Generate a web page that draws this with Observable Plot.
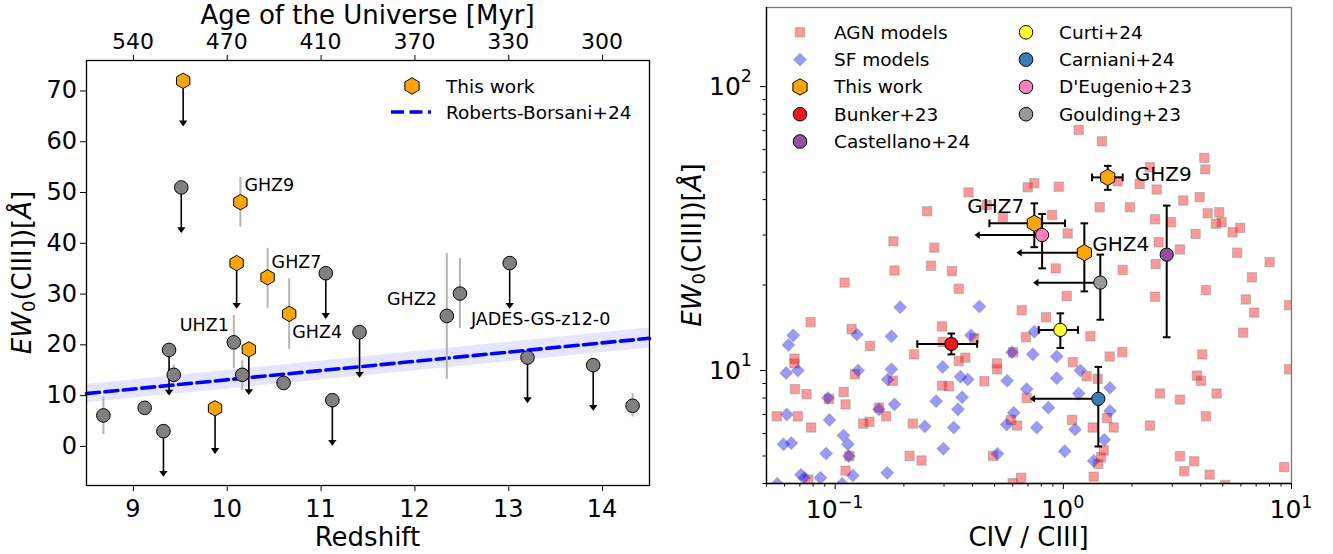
<!DOCTYPE html>
<html>
<head>
<meta charset="utf-8">
<script src="https://cdn.jsdelivr.net/npm/d3@7"></script>
<script src="https://cdn.jsdelivr.net/npm/@observablehq/plot@0.6"></script>
<style>
  html, body { margin: 0; padding: 0; background: #fff; }
  #fig { position: relative; width: 1333px; height: 554px; overflow: hidden; font-family: "DejaVu Sans", sans-serif; }
  #fig svg { position: absolute; top: 0; }
</style>
</head>
<body>
<div id="fig"></div>
<script>
// ===================== LEFT PANEL DATA =====================
const zTicks = [9, 10, 11, 12, 13, 14];
const ageTickLabels = ["540", "470", "410", "370", "330", "300"];
const ewTicks = [0, 10, 20, 30, 40, 50, 60, 70];

// This work (orange hexagons)
const twName  = ["", "GHZ9", "", "GHZ7", "GHZ4", "", ""];
const twZ     = [9.53, 10.14, 10.10, 10.43, 10.66, 10.23, 9.87];
const twEW    = [72.0, 48.1, 36.1, 33.3, 26.1, 19.1, 7.5];
const twLimit = [true, false, true, false, false, true, true];
const twLo    = [null, 43.2, null, 27.2, 19.1, null, null];
const twHi    = [null, 53.0, null, 39.0, 33.0, null, null];

// Literature (grey circles)
const litName  = ["", "", "", "UHZ1", "", "", "", "", "", "", "", "", "GHZ2", "JADES-GS-z12-0", "", "", "", ""];
const litZ     = [9.51, 11.05, 11.41, 10.07, 9.38, 9.43, 10.16, 10.60, 8.68, 9.12, 9.32, 11.12, 12.34, 12.48, 13.01, 13.20, 13.90, 14.32];
const litEW    = [51.0, 34.1, 22.5, 20.5, 19.0, 14.1, 14.1, 12.5, 6.1, 7.6, 3.0, 9.1, 25.7, 30.1, 36.1, 17.5, 16.0, 8.0];
const litLimit = [true, true, true, false, true, false, false, false, false, false, true, true, false, false, true, true, true, false];
const litLo    = [null, null, null, 15.3, null, 12.5, 11.0, null, 2.3, null, null, null, 13.2, 23.2, null, null, null, 5.8];
const litHi    = [null, null, null, 25.8, null, 16.0, 17.0, null, 9.8, null, null, null, 38.0, 37.0, null, null, null, 10.4];
const limitArrow = 8; // Å, length of upper-limit arrows

// Roberts-Borsani+24 relation
const rbZ  = [8.5, 14.5];
const rbEW = [10.4, 21.3];
const rbLo = [8.6, 19.4];
const rbHi = [12.2, 23.3];

// ===================== RIGHT PANEL DATA =====================
const civTicks = [0.1, 1, 10];
const civTickLabels = ["10^\u22121", "10^0", "10^1"];
const civMinor = [0.05, 0.06, 0.07, 0.08, 0.09, 0.2, 0.3, 0.4, 0.5, 0.6, 0.7, 0.8, 0.9, 2, 3, 4, 5, 6, 7, 8, 9];
const ewLogTicks = [10, 100];
const ewLogTickLabels = ["10^1", "10^2"];
const ewLogMinor = [4, 5, 6, 7, 8, 9, 20, 30, 40, 50, 60, 70, 80, 90];

// AGN models (squares)
const agnX = [0.253, 0.180, 0.272, 0.263, 0.182, 0.325, 0.110, 0.348, 0.078, 0.118, 0.294, 0.142, 0.222, 0.296, 0.407, 0.372, 0.348, 0.0663, 0.0663, 0.512,
  0.512, 0.451, 0.122, 0.179, 0.294, 0.315, 0.0666, 0.0749, 0.109, 0.111, 0.094, 0.0555, 0.0686, 0.0785, 0.1326, 0.1413, 0.1554, 0.167, 0.219, 0.1155,
  0.111, 0.212, 0.239, 0.492, 0.0762, 0.384, 1.168, 1.477, 4.146, 4.188, 2.397, 2.161, 2.565, 1.731, 0.746, 0.698, 0.955, 0.462, 0.543, 0.892,
  1.444, 1.960, 3.355, 3.958, 4.290, 4.822, 4.665, 4.941, 5.52, 5.96, 2.522, 2.963, 1.045, 3.80, 2.617, 3.245, 5.78, 8.02, 2.539, 0.926,
  1.820, 6.71, 4.217, 1.035, 2.522, 6.31, 9.77, 6.86, 0.657, 0.840, 1.313, 0.686, 6.14, 1.813, 1.597, 4.063, 9.77, 0.602, 1.099, 1.266,
  1.415, 3.851, 4.01, 2.652, 3.245, 4.698, 0.691, 4.217, 1.092, 1.554, 0.627, 0.590, 1.345, 1.662, 2.397, 1.503, 1.463, 1.423, 1.359, 3.245,
  3.748, 3.388, 4.378, 5.12, 9.29, 0.653, 0.600];
const agnEW = [36.4, 28.5, 27.1, 23.4, 22.5, 22.4, 20.4, 19.4, 14.8, 14.0, 14.3, 12.2, 11.4, 12.6, 13.0, 11.1, 10.8, 11.0, 10.6, 10.6,
  10.1, 9.17, 9.7, 9.2, 8.85, 8.8, 8.6, 8.25, 8.4, 7.6, 7.95, 6.9, 6.9, 6.3, 6.5, 6.6, 7.4, 6.9, 6.5, 5.0,
  4.44, 5.0, 4.82, 5.0, 4.13, 42.4, 70.4, 64.2, 56.1, 51.1, 52.0, 45.4, 43.4, 46.4, 45.7, 44.2, 44.4, 38.3, 34.7, 35.3,
  37.6, 37.6, 39.7, 40.8, 35.8, 36.1, 32.9, 33.3, 30.7, 31.8, 34.1, 33.3, 30.4, 30.3, 28.3, 26.7, 26.0, 24.1, 23.7, 22.9,
  22.6, 21.3, 19.2, 18.3, 18.2, 17.8, 17.0, 16.0, 16.3, 15.4, 13.2, 13.1, 13.6, 11.6, 11.2, 11.4, 10.1, 11.6, 10.7, 9.55,
  9.35, 9.6, 9.2, 8.3, 7.9, 8.3, 8.0, 6.9, 6.7, 6.8, 6.4, 6.7, 6.3, 6.3, 6.4, 5.23, 4.95, 4.69, 4.23, 4.99,
  4.79, 4.42, 4.30, 3.95, 4.57, 4.19, 4.01];

// SF models (diamonds)
const sfX = [0.1926, 0.4286, 0.0655, 0.0624, 0.1245, 0.1764, 0.394, 0.061, 0.0686, 0.126, 0.1764, 0.170, 0.296, 0.354, 0.381, 0.0929, 0.182, 0.277, 0.360, 0.1554,
  0.0614, 0.0944, 0.345, 0.247, 0.331, 0.0594, 0.0642, 0.1087, 0.1137, 0.0913, 0.1148, 0.298, 0.514, 0.0708, 0.0732, 0.0862, 0.1195, 0.169, 0.0557, 0.1073,
  0.746, 0.596, 0.7345, 0.9356, 1.187, 0.567, 0.936, 0.691, 1.168, 1.60, 0.860, 1.60, 0.606, 0.565, 0.765, 1.125, 1.512, 1.014, 1.359];
const sfEW = [16.7, 16.8, 13.3, 12.3, 13.4, 13.2, 13.3, 9.8, 10.0, 10.0, 10.1, 9.3, 10.3, 9.5, 9.3, 8.0, 7.6, 7.8, 8.05, 7.3,
  7.0, 6.7, 7.3, 6.35, 6.3, 5.5, 5.55, 5.9, 5.5, 5.1, 5.0, 5.3, 5.09, 4.29, 4.19, 4.19, 4.27, 4.36, 3.99, 3.99,
  13.7, 11.6, 11.4, 11.2, 10.0, 9.2, 9.4, 8.6, 8.3, 8.7, 7.4, 7.2, 7.1, 6.45, 6.3, 6.2, 5.7, 5.2, 4.8];

// This work (right panel)
const twRName = ["GHZ9", "GHZ7", "GHZ4"];
const twRX    = [1.565, 0.746, 1.236];
const twRXlo  = [1.336, 0.474, null];
const twRXhi  = [1.82, 1.017, null];
const twRXlim = [null, null, 0.652];
const twREW   = [47.9, 33.0, 26.0];
const twREWlo = [43.3, 27.2, 19.0];
const twREWhi = [52.6, 38.8, 33.0];

// Literature (right panel)
const refName  = ["Bunker+23", "Castellano+24", "Curti+24", "Carniani+24", "D'Eugenio+23", "Goulding+23"];
const refColor = ["#e41a1c", "#984ea3", "#ffff33", "#377eb8", "#f781bf", "#999999"];
const refX     = [0.323, 2.838, 0.970, 1.423, 0.807, 1.452];
const refXlo   = [0.229, null, 0.78, null, null, null];
const refXhi   = [0.419, null, 1.16, null, null, null];
const refXlim  = [null, null, null, 0.746, 0.427, 0.772];
const refEW    = [12.4, 25.6, 13.9, 7.95, 30.0, 20.4];
const refEWlo  = [11.4, 13.1, 12.0, 5.4, 22.9, 15.1];
const refEWhi  = [13.5, 38.1, 15.9, 10.3, 35.6, 25.6];

// ===================== SYMBOLS =====================
const sym = f => ({draw(ctx, size) { f(ctx, Math.sqrt(size / Math.PI)); }});
const hexagon = sym((c, r) => { const a = r * Math.sqrt(3) / 2; c.moveTo(0, -r); c.lineTo(a, -r / 2); c.lineTo(a, r / 2); c.lineTo(0, r); c.lineTo(-a, r / 2); c.lineTo(-a, -r / 2); c.closePath(); });
const square = sym((c, r) => { c.rect(-r, -r, 2 * r, 2 * r); });
const diamond = sym((c, r) => { c.moveTo(0, -r); c.lineTo(r, 0); c.lineTo(0, r); c.lineTo(-r, 0); c.closePath(); });
const caretDown = sym((c, r) => { c.moveTo(-r, -0.2 * r); c.lineTo(r, -0.2 * r); c.lineTo(0, 1.2 * r); c.closePath(); });
const caretLeft = sym((c, r) => { c.moveTo(0.2 * r, -r); c.lineTo(0.2 * r, r); c.lineTo(-1.2 * r, 0); c.closePath(); });
const hline = sym((c, r) => { c.moveTo(-r, 0); c.lineTo(r, 0); });
const vline = sym((c, r) => { c.moveTo(0, -r); c.lineTo(0, r); });

// ===================== LEFT PANEL =====================
const tw = twZ.map((z, i) => ({name: twName[i], z, ew: twEW[i], limit: twLimit[i], lo: twLo[i], hi: twHi[i]}));
const lit = litZ.map((z, i) => ({name: litName[i], z, ew: litEW[i], limit: litLimit[i], lo: litLo[i], hi: litHi[i]}));
const rb = rbZ.map((z, i) => ({z, ew: rbEW[i], lo: rbLo[i], hi: rbHi[i]}));
const allL = [...lit, ...tw];
const errL = allL.filter(d => d.lo != null);
const limL = allL.filter(d => d.limit).map(d => ({...d, end: d.ew - limitArrow}));

const leftLabelStyle = {
  "GHZ9": {dx: 4, dy: -17, anchor: "start"},
  "GHZ7": {dx: 4, dy: -15, anchor: "start"},
  "GHZ4": {dx: 3, dy: 19, anchor: "start"},
  "UHZ1": {dx: -5, dy: -17, anchor: "end"},
  "GHZ2": {dx: -10, dy: -17, anchor: "end"},
  "JADES-GS-z12-0": {dx: 11, dy: 26, anchor: "start"}
};
const leftLabels = allL.filter(d => d.name).map(d =>
  Plot.text([d], {x: "z", y: "ew", text: "name", dx: leftLabelStyle[d.name].dx, dy: leftLabelStyle[d.name].dy,
    textAnchor: leftLabelStyle[d.name].anchor, fontSize: 17.5, fill: "black"}));

const left = Plot.plot({
  width: 660, height: 554,
  marginLeft: 86, marginRight: 11, marginTop: 60, marginBottom: 69,
  style: {fontFamily: "DejaVu Sans", background: "transparent", overflow: "visible", color: "black"},
  x: {domain: [8.5, 14.5]},
  y: {domain: [-7.7, 76]},
  marks: [
    Plot.areaY(rb, {x: "z", y1: "lo", y2: "hi", fill: "blue", fillOpacity: 0.1}),
    Plot.lineY(rb, {x: "z", y: "ew", stroke: "blue", strokeWidth: 3.6, strokeDasharray: "13,5.5"}),
    Plot.ruleX(errL, {x: "z", y1: "lo", y2: "hi", stroke: "#b5b5b5", strokeWidth: 2}),
    Plot.ruleX(limL, {x: "z", y1: "ew", y2: "end", stroke: "black", strokeWidth: 1.6}),
    Plot.dot(limL, {x: "z", y: "end", symbol: caretDown, r: 4.2, fill: "black", stroke: "none"}),
    Plot.dot(lit, {x: "z", y: "ew", r: 6.8, fill: "gray", stroke: "black", strokeWidth: 1}),
    Plot.dot(tw, {x: "z", y: "ew", symbol: hexagon, r: 7.7, fill: "orange", stroke: "black", strokeWidth: 1}),
    ...leftLabels,
    Plot.frame({stroke: "black", strokeWidth: 1.3}),
    Plot.axisX({ticks: zTicks, tickSize: 6, label: null, tickFormat: () => ""}),
    Plot.axisX({anchor: "top", ticks: zTicks, tickSize: 6, label: null, tickFormat: () => ""}),
    Plot.axisY({ticks: ewTicks, tickSize: 6, label: null, tickFormat: () => ""})
  ]
});
left.style.left = "0px";

// ===================== RIGHT PANEL =====================
const agn = agnX.map((x, i) => ({x, y: agnEW[i]}));
const sf = sfX.map((x, i) => ({x, y: sfEW[i]}));
const twR = twRX.map((x, i) => ({name: twRName[i], x, y: twREW[i], xlo: twRXlo[i], xhi: twRXhi[i], xlim: twRXlim[i], ylo: twREWlo[i], yhi: twREWhi[i]}));
const refs = refX.map((x, i) => ({name: refName[i], color: refColor[i], x, y: refEW[i], xlo: refXlo[i], xhi: refXhi[i], xlim: refXlim[i], ylo: refEWlo[i], yhi: refEWhi[i]}));

function errMarks(data) {
  const xe = data.filter(d => d.xlo != null);
  const xl = data.filter(d => d.xlim != null);
  const bar = {stroke: "black", strokeWidth: 2};
  return [
    Plot.ruleX(data, {x: "x", y1: "ylo", y2: "yhi", ...bar}),
    Plot.dot(data, {x: "x", y: "ylo", symbol: hline, r: 3.8, fill: "none", ...bar}),
    Plot.dot(data, {x: "x", y: "yhi", symbol: hline, r: 3.8, fill: "none", ...bar}),
    Plot.ruleY(xe, {y: "y", x1: "xlo", x2: "xhi", ...bar}),
    Plot.dot(xe, {x: "xlo", y: "y", symbol: vline, r: 3.8, fill: "none", ...bar}),
    Plot.dot(xe, {x: "xhi", y: "y", symbol: vline, r: 3.8, fill: "none", ...bar}),
    Plot.ruleY(xl, {y: "y", x1: "x", x2: "xlim", ...bar}),
    Plot.dot(xl, {x: "xlim", y: "y", symbol: caretLeft, r: 3.8, fill: "black", stroke: "none"})
  ];
}
const rightLabelStyle = {
  "GHZ9": {dx: 27, dy: -3, anchor: "start"},
  "GHZ7": {dx: -10, dy: -17, anchor: "end"},
  "GHZ4": {dx: 8, dy: -8, anchor: "start"}
};
const rightLabels = twR.map(d => Plot.text([d], {x: "x", y: "y", text: "name", dx: rightLabelStyle[d.name].dx,
  dy: rightLabelStyle[d.name].dy, textAnchor: rightLabelStyle[d.name].anchor, fontSize: 20, fill: "black"}));

const right = Plot.plot({
  width: 673, height: 554,
  marginLeft: 106, marginRight: 42, marginTop: 7, marginBottom: 71,
  style: {fontFamily: "DejaVu Sans", background: "transparent", overflow: "visible", color: "black"},
  x: {type: "log", domain: [0.05, 10]},
  y: {type: "log", domain: [4, 190]},
  marks: [
    Plot.dot(agn, {x: "x", y: "y", symbol: square, r: 4.6, fill: "red", fillOpacity: 0.4, stroke: "gray", strokeOpacity: 0.4, strokeWidth: 1.2, clip: true}),
    Plot.dot(sf, {x: "x", y: "y", symbol: diamond, r: 6.3, fill: "blue", fillOpacity: 0.4, stroke: "gray", strokeOpacity: 0.4, strokeWidth: 1.2, clip: true}),
    ...errMarks(twR),
    Plot.dot(twR, {x: "x", y: "y", symbol: hexagon, r: 8.2, fill: "orange", stroke: "black", strokeWidth: 1}),
    ...errMarks(refs),
    Plot.dot(refs, {x: "x", y: "y", r: 6.6, fill: "color", stroke: "black", strokeWidth: 1}),
    ...rightLabels,
    Plot.frame({stroke: "#777", strokeWidth: 1.3}),
    Plot.ruleX([d3.min([0.05, 10])], {stroke: "black", strokeWidth: 1.3}),
    Plot.ruleY([d3.min([4, 190])], {stroke: "black", strokeWidth: 1.3}),
    Plot.axisX({ticks: civMinor, tickSize: 3.5, label: null, tickFormat: () => ""}),
    Plot.axisX({ticks: civTicks, tickSize: 6, label: null, tickFormat: () => ""}),
    Plot.axisY({ticks: ewLogMinor, tickSize: 3.5, label: null, tickFormat: () => ""}),
    Plot.axisY({ticks: ewLogTicks, tickSize: 6, label: null, tickFormat: () => ""})
  ]
});
right.style.left = "660px";

const fig = document.getElementById("fig");
fig.appendChild(left);
fig.appendChild(right);

// ===================== OVERLAY: tick labels, axis titles, legends =====================
const ov = d3.create("svg").attr("width", 1333).attr("height", 554)
  .style("left", "0px").attr("font-family", "DejaVu Sans").attr("fill", "black");

// tick labels positioned by the plots' own scales
const Lx = left.scale("x"), Ly = left.scale("y"), Rx = right.scale("x"), Ry = right.scale("y");
const Lframe = {left: 86, bottom: 485, top: 60};
const Rframe = {left: 660 + 106, bottom: 483};
function tickText(x, y, txt, size, anchor, baseline) {
  const t = ov.append("text").attr("x", x).attr("y", y).attr("text-anchor", anchor)
    .attr("font-size", size).attr("dominant-baseline", baseline || "auto");
  if (txt.includes("^")) {
    const [b, e] = txt.split("^");
    t.append("tspan").text(b);
    t.append("tspan").attr("font-size", size * 0.7).attr("dy", -size * 0.42).text(e);
  } else t.text(txt);
}
zTicks.forEach((z, i) => {
  tickText(Lx.apply(z), Lframe.bottom + 31.5, String(z), 24, "middle");
  tickText(Lx.apply(z), Lframe.top - 11, ageTickLabels[i], 22, "middle");
});
ewTicks.forEach(v => tickText(Lframe.left - 9, Ly.apply(v), String(v), 24, "end", "central"));
civTicks.forEach((v, i) => tickText(660 + Rx.apply(v), Rframe.bottom + 35, civTickLabels[i], 25, "middle"));
ewLogTicks.forEach((v, i) => tickText(Rframe.left - 14, Ry.apply(v), ewLogTickLabels[i], 25, "end", "central"));

function title(x, y, txt) {
  return ov.append("text").attr("x", x).attr("y", y).attr("text-anchor", "middle")
    .attr("dominant-baseline", "central").attr("font-size", 26).text(txt);
}
title(367.5, 15, "Age of the Universe [Myr]");
title(367.5, 537, "Redshift");
title(1028.5, 537, "CIV / CIII]");
function ewTitle(x, y) {
  const t = ov.append("text").attr("x", x).attr("y", y).attr("text-anchor", "middle")
    .attr("dominant-baseline", "central").attr("font-size", 26).attr("transform", `rotate(-90,${x},${y})`);
  t.append("tspan").attr("font-style", "italic").text("EW");
  t.append("tspan").attr("font-size", "18px").attr("dy", 6).text("0");
  t.append("tspan").attr("dy", -6).text("(CIII])[");
  t.append("tspan").attr("font-style", "italic").text("Å");
  t.append("tspan").text("]");
}
ewTitle(22, 272.5);
ewTitle(692, 245);

function legendSymbol(x, y, s, r, attrs) {
  const p = ov.append("path").attr("transform", `translate(${x},${y})`).attr("d", d3.symbol(s, Math.PI * r * r)());
  for (const k in attrs) p.attr(k, attrs[k]);
}
function legendText(x, y, txt) {
  ov.append("text").attr("x", x).attr("y", y).attr("dominant-baseline", "central").attr("font-size", 18.5).text(txt);
}
// left legend
legendSymbol(412, 86, hexagon, 8.2, {fill: "orange", stroke: "black", "stroke-width": 1});
legendText(446, 86, "This work");
ov.append("line").attr("x1", 391).attr("x2", 431).attr("y1", 112).attr("y2", 112)
  .attr("stroke", "blue").attr("stroke-width", 3.6).attr("stroke-dasharray", "13,5.5");
legendText(446, 112, "Roberts-Borsani+24");

// right legend
const col1 = [
  {label: "AGN models", s: square, r: 4.6, a: {fill: "red", "fill-opacity": 0.4, stroke: "gray", "stroke-opacity": 0.4, "stroke-width": 1.2}},
  {label: "SF models", s: diamond, r: 6.3, a: {fill: "blue", "fill-opacity": 0.4, stroke: "gray", "stroke-opacity": 0.4, "stroke-width": 1.2}},
  {label: "This work", s: hexagon, r: 8.2, a: {fill: "orange", stroke: "black", "stroke-width": 1}},
  {label: refName[0], s: d3.symbolCircle, r: 6.8, a: {fill: refColor[0], stroke: "black", "stroke-width": 1}},
  {label: refName[1], s: d3.symbolCircle, r: 6.8, a: {fill: refColor[1], stroke: "black", "stroke-width": 1}}
];
const col2 = [2, 3, 4, 5].map(i => ({label: refName[i], s: d3.symbolCircle, r: 6.8, a: {fill: refColor[i], stroke: "black", "stroke-width": 1}}));
col1.forEach((d, i) => { legendSymbol(800, 32.3 + i * 27.3, d.s, d.r, d.a); legendText(834, 32.3 + i * 27.3, d.label); });
col2.forEach((d, i) => { legendSymbol(1026, 32.3 + i * 27.3, d.s, d.r, d.a); legendText(1059, 32.3 + i * 27.3, d.label); });

fig.appendChild(ov.node());
</script>
</body>
</html>
